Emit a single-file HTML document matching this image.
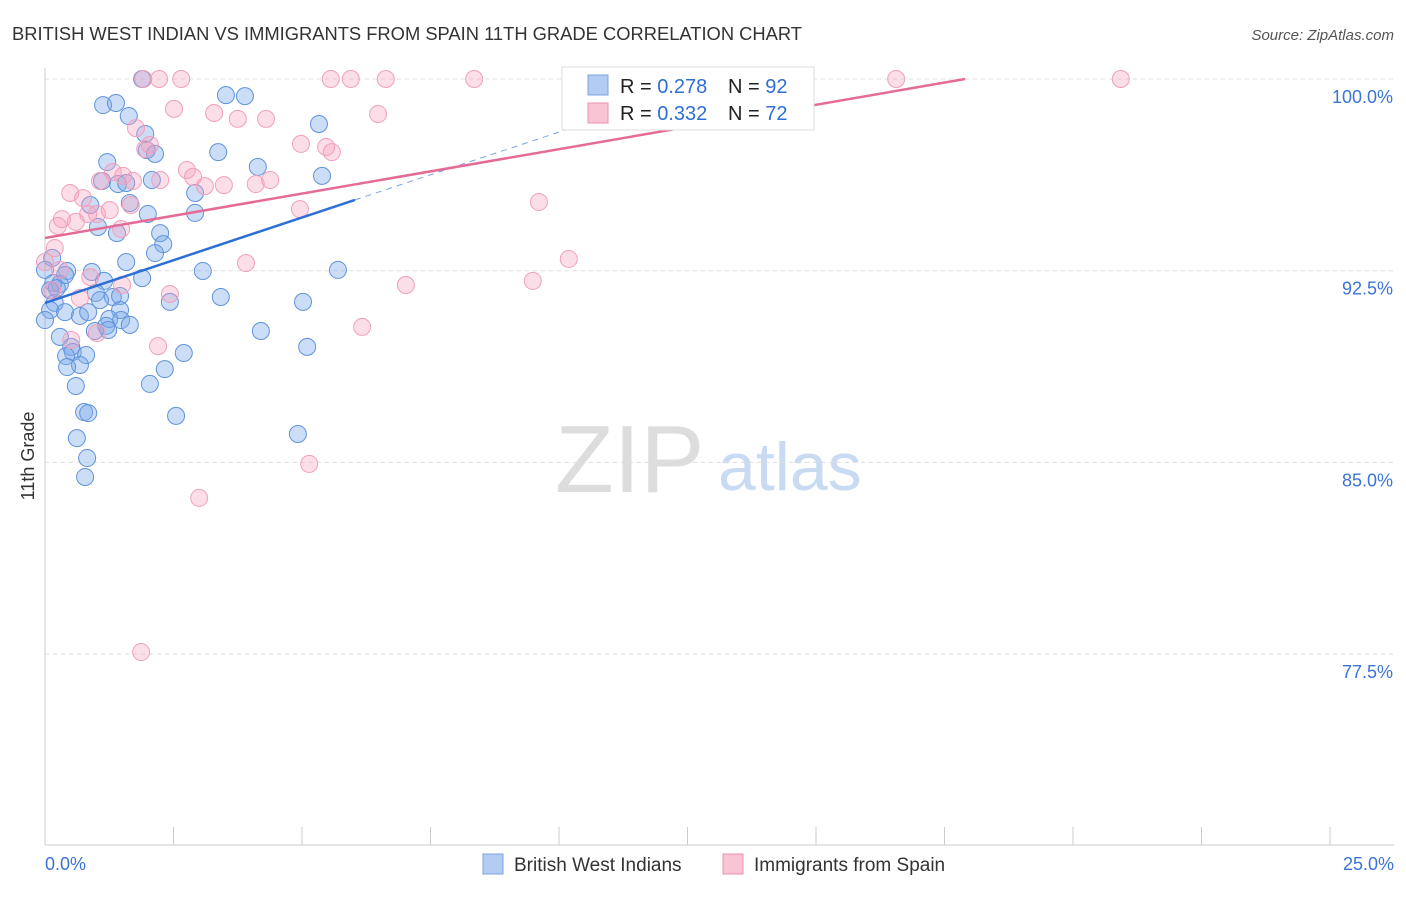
<!DOCTYPE html>
<html><head><meta charset="utf-8"><style>
body{margin:0;background:#fff;font-family:"Liberation Sans",sans-serif;}
svg text{font-family:"Liberation Sans",sans-serif;}
</style></head><body>
<svg id="chart" width="1406" height="892" xmlns="http://www.w3.org/2000/svg">
<text x="12" y="40" font-size="18" fill="#333" textLength="790" lengthAdjust="spacingAndGlyphs">BRITISH WEST INDIAN VS IMMIGRANTS FROM SPAIN 11TH GRADE CORRELATION CHART</text>
<text x="1394" y="40" font-size="15" fill="#555" text-anchor="end" font-style="italic">Source: ZipAtlas.com</text>
<text x="34" y="456" font-size="18" fill="#333" text-anchor="middle" transform="rotate(-90 34 456)">11th Grade</text>
<text x="555" y="492" font-size="96" fill="#ddd" font-family="Liberation Serif">ZIP</text>
<text x="718" y="490" font-size="68" fill="#c9dbf2">atlas</text>
<g id="grid"></g><g id="pts"></g><g id="lines"></g>
<g>
<rect x="562" y="67" width="252" height="63" fill="#fff" stroke="#ddd"/>
<rect x="588" y="75" width="20" height="20" fill="#b3cdf2" stroke="#7aa5e0"/>
<text x="620" y="93" font-size="20" fill="#222">R = <tspan fill="#2f6fd4">0.278</tspan></text>
<text x="728" y="93" font-size="20" fill="#222">N = <tspan fill="#2f6fd4">92</tspan></text>
<rect x="588" y="103" width="20" height="20" fill="#f8c4d4" stroke="#ec92ad"/>
<text x="620" y="120" font-size="20" fill="#222">R = <tspan fill="#2f6fd4">0.332</tspan></text>
<text x="728" y="120" font-size="20" fill="#222">N = <tspan fill="#2f6fd4">72</tspan></text>
</g>
<g>
<rect x="483" y="854" width="20" height="20" fill="#b3cdf2" stroke="#7aa5e0"/>
<text x="514" y="871" font-size="19" fill="#333">British West Indians</text>
<rect x="723" y="854" width="20" height="20" fill="#f8c4d4" stroke="#ec92ad"/>
<text x="754" y="871" font-size="19" fill="#333">Immigrants from Spain</text>
</g>
</svg>
<script>
const xTicks=[0,2.5,5,7.5,10,12.5,15,17.5,20,22.5,25];
const yTicks=[77.5,85,92.5,100];
const yTickLabels=["77.5%","85.0%","92.5%","100.0%"];
const blueX=[1.89,3.52,3.89,1.13,1.38,1.63,5.33,1.95,1.98,2.14,3.37,1.21,4.14,5.39,1.11,1.42,1.58,2.08,2.92,1.65,0.88,2.0,2.92,1.03,1.40,2.24,2.30,2.14,0.14,1.58,0,0.43,0.91,3.07,1.15,1.89,5.70,0.16,0.29,0.99,1.32,1.46,1.07,0.19,2.43,3.42,5.02,0.10,0.39,0.68,0.84,1.46,1.25,1.48,1.65,1.19,1.23,0.97,4.20,0.29,0.51,0.54,0.80,0.41,2.70,5.10,0.68,0.43,2.33,0.60,2.04,0.76,0.84,2.55,0.62,4.92,0.82,0.78,0,0.10,0.23,0.39];
const blueY=[100,99.37,99.33,98.98,99.06,98.55,98.24,97.85,97.22,97.07,97.14,96.75,96.56,96.21,96.01,95.89,95.93,96.05,95.54,95.15,95.07,94.72,94.76,94.21,93.97,93.97,93.54,93.19,93.0,92.84,92.53,92.49,92.45,92.49,92.1,92.21,92.53,92.02,91.98,91.63,91.47,91.51,91.35,91.24,91.28,91.47,91.28,90.96,90.88,90.73,90.88,90.96,90.61,90.57,90.38,90.34,90.18,90.14,90.14,89.91,89.52,89.32,89.2,89.16,89.28,89.52,88.81,88.73,88.65,87.99,88.07,86.97,86.93,86.82,85.95,86.11,85.17,84.43,90.57,91.74,91.82,92.33];
const pinkX=[1.91,2.22,2.65,5.56,5.95,6.63,8.35,16.56,20.93,2.51,3.29,3.75,4.3,6.48,1.77,2.04,1.95,4.98,5.47,5.58,2.76,2.88,1.32,1.52,1.71,2.24,3.11,3.48,4.1,4.38,0.49,0.74,1.67,4.96,9.61,0.33,0.84,1.01,1.26,0.6,0.25,1.48,0.19,3.91,10.19,0,0.88,1.5,7.02,9.49,2.43,0.68,6.17,1.01,0.51,2.2,5.14,3.0,1.87,1.07,0.14,0.29];
const pinkY=[100,100,100,100,100,100,100,100,100,98.83,98.67,98.44,98.44,98.63,98.08,97.42,97.26,97.46,97.34,97.14,96.44,96.17,96.36,96.21,96.01,96.05,95.81,95.85,95.89,96.05,95.54,95.34,95.07,94.91,95.19,94.52,94.72,94.72,94.87,94.41,94.25,94.13,93.39,92.8,92.96,92.84,92.25,91.94,91.94,92.1,91.59,91.43,90.3,90.06,89.79,89.55,84.94,83.61,77.58,96.01,91.74,92.53];
const blueTrend=[0,91.24,6.03,95.27,23.8];
const pinkTrend=[0,93.78,17.9,100];
const NS="http://www.w3.org/2000/svg";
const sx=v=>45+v*51.4, sy=v=>79+(100-v)*25.56;
function mk(t,a,p){const e=document.createElementNS(NS,t);for(const k in a)e.setAttribute(k,a[k]);p.appendChild(e);return e;}
const g=document.getElementById('grid');
let ax=mk('line',{x1:45,y1:68,x2:45,y2:845,stroke:'#ccc'},g);


let bx=mk('line',{x1:45,y1:845,x2:1394,y2:845,stroke:'#ccc'},g);


yTicks.forEach((t,i)=>{
 const l=mk('line',{x1:45,y1:sy(t),x2:1394,y2:sy(t),stroke:'#ddd','stroke-dasharray':'4,4'},g);
 
 
 const tx=mk('text',{x:1393,y:sy(t)+24,'font-size':18,fill:'#3b74d6','text-anchor':'end'},g);
 tx.textContent=yTickLabels[i];
 
 
});
xTicks.forEach(t=>{
 const l=mk('line',{x1:sx(t),y1:827,x2:sx(t),y2:845,stroke:'#ccc'},g);
 
 
});
let x0=mk('text',{x:45,y:870,'font-size':18,fill:'#3b74d6'},g);x0.textContent='0.0%';


let x1=mk('text',{x:1394,y:870,'font-size':18,fill:'#3b74d6','text-anchor':'end'},g);x1.textContent='25.0%';


const pg=document.getElementById('pts');
blueX.forEach((v,i)=>{const c=mk('circle',{cx:sx(v),cy:sy(blueY[i]),r:8.5,fill:'rgba(120,168,235,0.38)',stroke:'#5f93dc','stroke-width':1},pg);
 
 });
pinkX.forEach((v,i)=>{const c=mk('circle',{cx:sx(v),cy:sy(pinkY[i]),r:8.5,fill:'rgba(245,160,190,0.35)',stroke:'#f0a0bb','stroke-width':1},pg);
 
 });
const lg=document.getElementById('lines');
const bs=(blueTrend[3]-blueTrend[1])/(blueTrend[2]-blueTrend[0]);
let bl=mk('line',{x1:sx(blueTrend[0]),y1:sy(blueTrend[1]),x2:sx(blueTrend[2]),y2:sy(blueTrend[3]),stroke:'#2e6fd6','stroke-width':2.5},lg);


const xe=blueTrend[2]+(100-blueTrend[3])/bs;
let bd=mk('line',{x1:sx(blueTrend[2]),y1:sy(blueTrend[3]),x2:sx(xe),y2:sy(100),stroke:'#7aa5e0','stroke-width':1,'stroke-dasharray':'6,5'},lg);


let pl=mk('line',{x1:sx(pinkTrend[0]),y1:sy(pinkTrend[1]),x2:sx(pinkTrend[2]),y2:sy(pinkTrend[3]),stroke:'#e56b97','stroke-width':2.5},lg);


</script>
</body></html>
